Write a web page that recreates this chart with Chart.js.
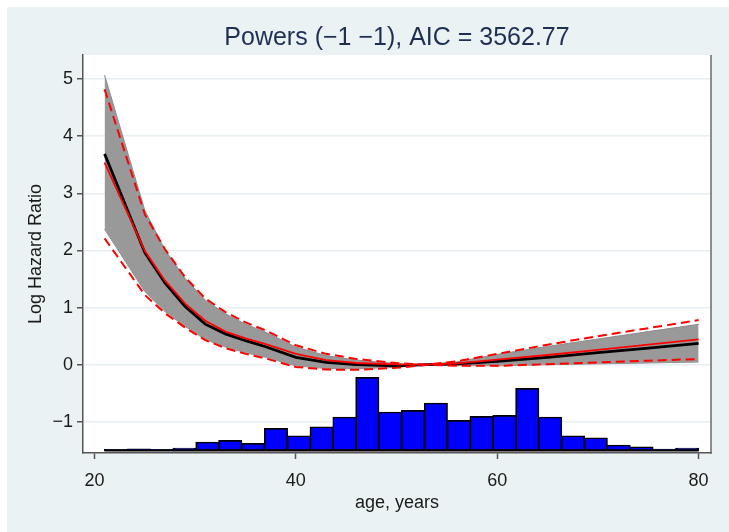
<!DOCTYPE html>
<html><head><meta charset="utf-8">
<script src="https://cdn.jsdelivr.net/npm/chart.js@4/dist/chart.umd.min.js"></script>
<style>html,body{margin:0;padding:0;background:#fff;overflow:hidden;}</style>
</head><body><canvas id="c" width="729" height="532"></canvas>
<script>
const TITLE = 'Powers (\u22121 \u22121), AIC = 3562.77';
const X_LABEL = 'age, years';
const Y_LABEL = 'Log Hazard Ratio';
const X_TICKS = [20, 40, 60, 80];
const Y_TICKS = [-1, 0, 1, 2, 3, 4, 5];

const AGES   = [21, 25, 27, 29, 31, 33, 35, 37, 40, 43, 46, 50, 53, 56, 60, 65, 70, 75, 80];
const FIT    = [3.69, 1.96, 1.43, 1.02, 0.71, 0.54, 0.42, 0.315, 0.13, 0.04, 0.0, -0.02, 0, 0.015, 0.06, 0.13, 0.21, 0.29, 0.374];
const FIT_HI = [5.07, 2.70, 2.01, 1.51, 1.13, 0.89, 0.71, 0.57, 0.31, 0.16, 0.08, 0.02, 0, 0.05, 0.18, 0.32, 0.45, 0.58, 0.707];
const FIT_LO = [2.37, 1.28, 0.93, 0.67, 0.44, 0.31, 0.21, 0.13, -0.02, -0.065, -0.07, -0.045, 0, -0.015, -0.02, 0.0, 0.015, 0.03, 0.047];
const ALT    = [3.535, 1.99, 1.47, 1.07, 0.77, 0.58, 0.46, 0.36, 0.19, 0.08, 0.03, 0.005, 0, 0.025, 0.09, 0.17, 0.26, 0.35, 0.444];
const ALT_HI = [4.82, 2.63, 2.02, 1.53, 1.16, 0.92, 0.74, 0.60, 0.34, 0.19, 0.10, 0.03, 0, 0.06, 0.19, 0.35, 0.50, 0.64, 0.782];
const ALT_LO = [2.21, 1.22, 0.90, 0.65, 0.43, 0.29, 0.19, 0.11, -0.04, -0.085, -0.09, -0.055, 0, -0.02, -0.02, 0.01, 0.04, 0.07, 0.10];

const BIN_EDGES_RANGE = [21, 80];
const BIN_CENTERS = [22.135, 24.404, 26.673, 28.942, 31.212, 33.481, 35.750, 38.019, 40.288, 42.558, 44.827, 47.096, 49.365,
                     51.635, 53.904, 56.173, 58.442, 60.712, 62.981, 65.250, 67.519, 69.788, 72.058, 74.327, 76.596, 78.865];
const BIN_TOPS = [-1.487, -1.475, -1.487, -1.463, -1.358, -1.330, -1.382, -1.120, -1.248, -1.090, -0.920, -0.227, -0.833,
                  -0.805, -0.675, -0.980, -0.910, -0.892, -0.420, -0.920, -1.248, -1.283, -1.410, -1.440, -1.480, -1.463];
const HIST_BASE = -1.5;

const FONT = '"Liberation Sans", Arial, Helvetica, sans-serif';
const pts = (ys) => AGES.map((a, i) => ({x: a, y: ys[i]}));
const fmt = (v) => (v < 0 ? '\u2212' + Math.abs(v) : String(v));

const decor = {
  id: 'decor',
  beforeDraw(chart) {
    const {ctx, chartArea: a, width, height} = chart;
    ctx.save();
    ctx.fillStyle = '#ffffff'; ctx.fillRect(0, 0, width, height);
    ctx.fillStyle = '#eaf2f3'; ctx.fillRect(7, 7, width - 7, height - 7);
    ctx.fillStyle = '#ffffff'; ctx.fillRect(a.left, a.top, a.right - a.left, a.bottom - a.top);
    ctx.restore();
  },
  afterDraw(chart) {
    const {ctx, chartArea: a} = chart;
    ctx.save();
    ctx.strokeStyle = '#6a6a6a'; ctx.lineWidth = 1.5;
    ctx.beginPath(); ctx.moveTo(a.right, a.top); ctx.lineTo(a.right, a.bottom + 0.75); ctx.stroke();
    ctx.fillStyle = '#1e2f52';
    ctx.font = '25px ' + FONT;
    ctx.textAlign = 'center'; ctx.textBaseline = 'alphabetic';
    ctx.fillText(TITLE, (a.left + a.right) / 2, 45);
    ctx.restore();
  }
};

new Chart(document.getElementById('c'), {
  type: 'line',
  data: {
    datasets: [
      { type: 'line', data: BIN_EDGES_RANGE.map(x => ({x: x, y: HIST_BASE})), borderColor: '#000000', borderWidth: 2.2, pointRadius: 0, fill: false, order: 0 },
      { type: 'line', data: pts(ALT_HI), borderColor: '#ff0000', borderWidth: 2, borderDash: [9, 5], pointRadius: 0, fill: false, order: 1 },
      { type: 'line', data: pts(ALT_LO), borderColor: '#ff0000', borderWidth: 2, borderDash: [9, 5], pointRadius: 0, fill: false, order: 1 },
      { type: 'line', data: pts(ALT), borderColor: '#ff0000', borderWidth: 1.8, pointRadius: 0, fill: false, order: 2 },
      { type: 'line', data: pts(FIT), borderColor: '#000000', borderWidth: 2.8, pointRadius: 0, fill: false, order: 3 },
      { type: 'line', data: pts(FIT_HI), borderColor: '#8c8c8c', backgroundColor: '#999999', borderWidth: 1, pointRadius: 0, fill: '+1', order: 5 },
      { type: 'line', data: pts(FIT_LO), borderColor: '#8c8c8c', borderWidth: 1, pointRadius: 0, fill: false, order: 5 },
      { type: 'bar', data: BIN_CENTERS.map((c, i) => ({x: c, y: BIN_TOPS[i]})), base: HIST_BASE,
        backgroundColor: '#0000ff', borderColor: '#000000', borderWidth: 1.6, borderSkipped: false, inflateAmount: 0.6,
        barPercentage: 1, categoryPercentage: 1, order: 6 }
    ]
  },
  options: {
    responsive: false,
    animation: false,
    devicePixelRatio: 1,
    layout: { padding: { top: 55, right: 18, left: 0, bottom: 0 } },
    plugins: { legend: { display: false }, tooltip: { enabled: false }, title: { display: false } },
    scales: {
      x: {
        type: 'linear', min: 18.858, max: 81.23, offset: false,
        afterFit: (s) => { s.height = 79; },
        afterBuildTicks: (s) => { s.ticks = X_TICKS.map(v => ({value: v})); },
        grid: { display: true, drawOnChartArea: false, offset: false, tickLength: 6, tickColor: '#555555', tickWidth: 1.5 },
        border: { display: true, color: '#555555', width: 1.5 },
        ticks: { color: '#1a1a1a', font: { family: FONT, size: 18 }, padding: 11, maxRotation: 0, callback: (v) => fmt(v) },
        title: { display: true, text: X_LABEL, color: '#1a1a1a', font: { family: FONT, size: 18 }, padding: { top: 0, bottom: 18 } }
      },
      y: {
        type: 'linear', min: -1.545, max: 5.42, beginAtZero: false,
        afterFit: (s) => { s.width = 83; },
        afterBuildTicks: (s) => { s.ticks = Y_TICKS.map(v => ({value: v})); },
        grid: { display: true, drawOnChartArea: true, color: '#e6eef1', lineWidth: 1.5, tickLength: 6, tickColor: '#555555', tickWidth: 1.5 },
        border: { display: true, color: '#555555', width: 1.5 },
        ticks: { color: '#1a1a1a', font: { family: FONT, size: 18 }, padding: 4, callback: (v) => fmt(v) },
        title: { display: true, text: Y_LABEL, color: '#1a1a1a', font: { family: FONT, size: 18 }, padding: { top: 25, bottom: 0 } }
      }
    }
  },
  plugins: [decor]
});
</script>
</body></html>
